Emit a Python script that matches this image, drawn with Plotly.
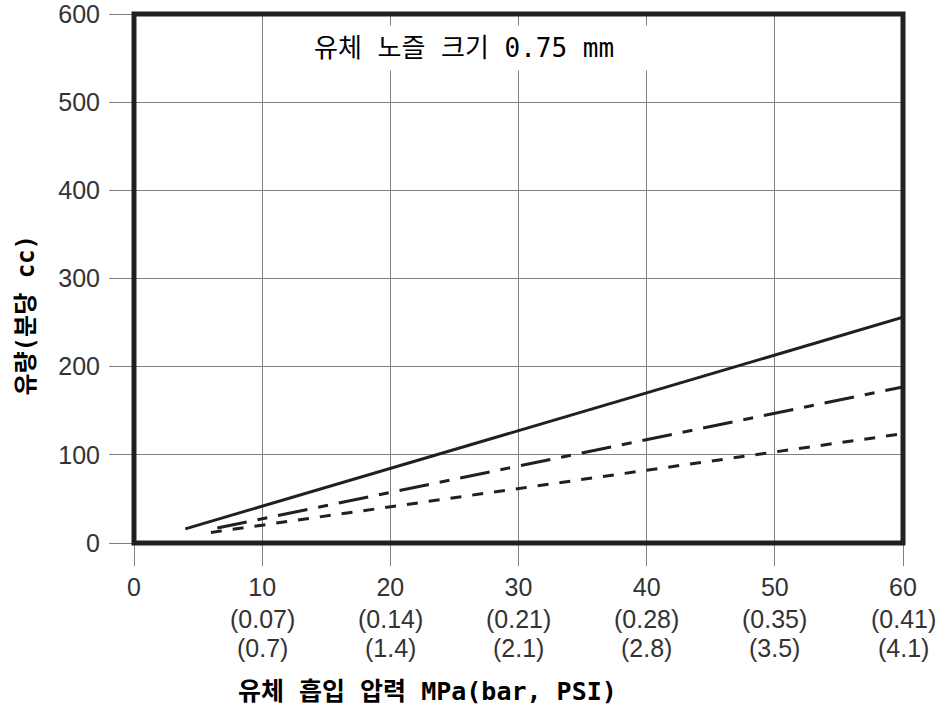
import plotly.graph_objects as go

# ---- data ----
x_ticks = [0, 10, 20, 30, 40, 50, 60]
bar_labels = ["(0.07)", "(0.14)", "(0.21)", "(0.28)", "(0.35)", "(0.41)"]
psi_labels = ["(0.7)", "(1.4)", "(2.1)", "(2.8)", "(3.5)", "(4.1)"]
y_ticks = [0, 100, 200, 300, 400, 500, 600]

solid_x = [4, 60]
solid_y = [16, 256]
dashdot_x = [6.5, 60]
dashdot_y = [17, 177]
dashed_x = [6, 60]
dashed_y = [12, 124]

title_text = "유체 노즐 크기 0.75 mm"
x_title = "유체 흡입 압력 MPa(bar, PSI)"
y_title = "유량(분당 cc)"

x_range = [0, 60]
y_range = [0, 600]

INK = "#231f20"
GRID = "#808080"
TICKFONT = dict(family="Liberation Sans, Arial, sans-serif", size=25, color="#333333")
KFONT = "DejaVu Sans Mono, Noto Sans CJK KR, monospace"

fig = go.Figure()
fig.add_trace(go.Scatter(x=solid_x, y=solid_y, mode="lines",
                         line=dict(color=INK, width=3), showlegend=False))
fig.add_trace(go.Scatter(x=dashdot_x, y=dashdot_y, mode="lines",
                         line=dict(color=INK, width=3, dash="30px,11px,10px,11px"),
                         showlegend=False))
fig.add_trace(go.Scatter(x=dashed_x, y=dashed_y, mode="lines",
                         line=dict(color=INK, width=3, dash="11px,11px"),
                         showlegend=False))

fig.update_xaxes(range=x_range, tickvals=x_ticks, ticktext=[str(v) for v in x_ticks],
                 showgrid=True, gridcolor=GRID, gridwidth=1, zeroline=False,
                 showline=False, ticks="outside", ticklen=22, tickwidth=1,
                 tickcolor=GRID, tickfont=TICKFONT, fixedrange=True, automargin=False,
                 ticklabeloverflow="allow")
fig.update_yaxes(range=y_range, tickvals=y_ticks, ticktext=[str(v) for v in y_ticks],
                 showgrid=True, gridcolor=GRID, gridwidth=1, zeroline=False,
                 showline=False, ticks="outside", ticklen=24, tickwidth=1,
                 tickcolor=GRID, tickfont=TICKFONT, fixedrange=True, automargin=False,
                 ticklabelstandoff=4, ticklabeloverflow="allow")

# frame (paper-referenced so it is not clipped to the plot area)
fig.add_shape(type="rect", xref="paper", yref="paper", x0=0, x1=1, y0=0, y1=1,
              line=dict(color=INK, width=5), layer="above")

annotations = []
for xv, b, p in zip(x_ticks[1:], bar_labels, psi_labels):
    annotations.append(dict(x=xv, xref="x", y=0, yref="paper", yanchor="middle",
                            yshift=-76, text=b, showarrow=False, font=TICKFONT))
    annotations.append(dict(x=xv, xref="x", y=0, yref="paper", yanchor="middle",
                            yshift=-105, text=p, showarrow=False, font=TICKFONT))

annotations.append(dict(x=0.2237, xref="paper", y=0.935, yref="paper",
                        xanchor="left", yanchor="middle", width=344, align="left",
                        text=title_text, showarrow=False, bgcolor="white",
                        borderpad=7, font=dict(family=KFONT, size=26, color="black")))
annotations.append(dict(x=0.3823, xref="paper", y=0, yref="paper",
                        xanchor="center", yanchor="middle", yshift=-148,
                        text="<b>" + x_title + "</b>", showarrow=False,
                        font=dict(family=KFONT, size=25, color="black")))
annotations.append(dict(x=-0.1417, xref="paper", y=0.43, yref="paper",
                        xanchor="center", yanchor="middle", textangle=-90,
                        text="<b>" + y_title + "</b>", showarrow=False,
                        font=dict(family=KFONT, size=24, color="black")))

fig.update_layout(width=948, height=711,
                  margin=dict(l=134, r=45, t=14, b=168),
                  paper_bgcolor="white", plot_bgcolor="white",
                  annotations=annotations, showlegend=False)

fig.write_html("out.html", config={"displayModeBar": False},
               post_script="document.body.style.margin='0';document.body.style.overflow='hidden';")
